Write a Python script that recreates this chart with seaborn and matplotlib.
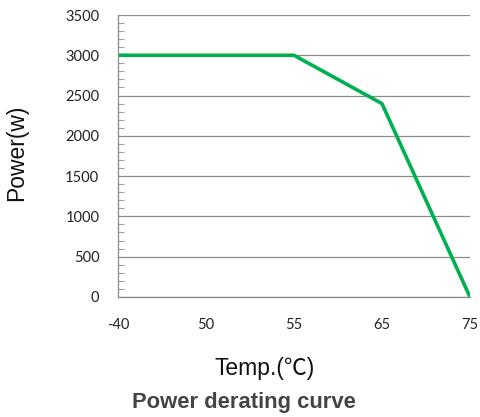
import numpy as np
import pandas as pd
import matplotlib
matplotlib.use("Agg")
import matplotlib.pyplot as plt
import seaborn as sns
from matplotlib.ticker import MultipleLocator

# chart values
temps = ["-40", "50", "55", "65", "75"]
power = [3000, 3000, 3000, 2400, 0]

df = pd.DataFrame({"pos": np.arange(len(temps)), "power": power})

sns.set_style("white")
plt.rcParams["font.family"] = ["Liberation Sans", "Noto Sans CJK SC", "DejaVu Sans"]

fig = plt.figure(figsize=(4.8, 4.17), dpi=100)
ax = fig.add_axes([0.246, 0.288, 0.733, 0.676])

sns.lineplot(data=df, x="pos", y="power", color="#00B050", linewidth=2.6, ax=ax)

ax.set_xlim(0, len(temps) - 1)
ax.set_ylim(0, 3500)
ax.set_xticks(df["pos"])
ax.set_xticklabels(temps)
ax.yaxis.set_major_locator(MultipleLocator(500))
ax.yaxis.set_minor_locator(MultipleLocator(100))

ax.grid(axis="y", color="#8c8c8c", linewidth=0.9)
ax.set_axisbelow(True)
for s in ["top", "right"]:
    ax.spines[s].set_visible(False)
for s in ["left", "bottom"]:
    ax.spines[s].set_color("#8c8c8c")
    ax.spines[s].set_linewidth(0.9)

ax.tick_params(axis="both", which="major", direction="out", length=4.5, width=0.9,
               color="#8c8c8c", labelsize=10.5, labelcolor="#222222")
ax.tick_params(axis="x", which="major", pad=11)
ax.tick_params(axis="y", which="major", pad=9)
ax.tick_params(axis="y", which="minor", direction="in", length=4, width=0.8,
               color="#a0a0a0", left=True)
for lab in ax.get_xticklabels() + ax.get_yticklabels():
    lab.set_family(["Lato", "DejaVu Sans"])

ax.set_xlabel("")
ax.set_ylabel("")
fig.text(265 / 480, 1 - 375 / 417, "Temp.(℃)", ha="center", va="baseline",
         fontsize=16.5, color="#111111")
fig.text(0.034, 0.634, "Power(w)", ha="center", va="center", rotation=90,
         fontsize=16.5, color="#111111")
fig.text(244 / 480, 1 - 408 / 417, "Power derating curve", ha="center", va="baseline",
         fontsize=15.8, fontweight="bold", color="#444444")

fig.savefig("out.png", dpi=100)
